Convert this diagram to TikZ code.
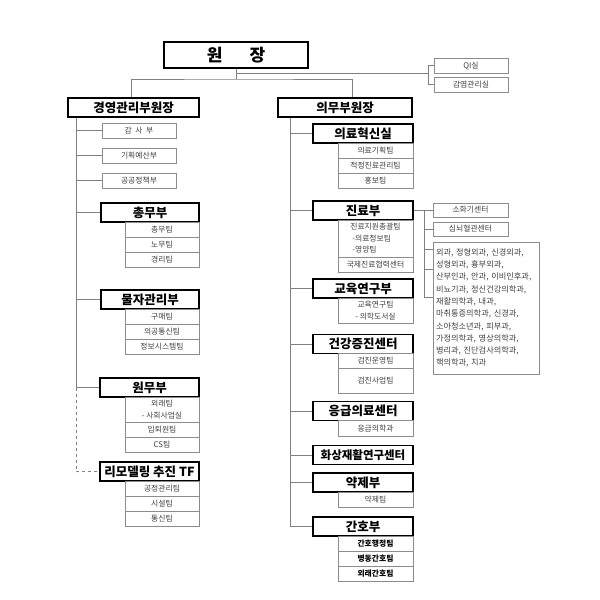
\documentclass[tikz,border=0pt]{standalone}
\usepackage{fontspec}
\newfontfamily\kr{Noto Sans CJK KR}
\begin{document}
\begin{tikzpicture}[x=1pt,y=-1pt,
  hdr/.style={draw=black, line width=1.1pt, fill=white, inner sep=0pt,
    minimum width=100pt, minimum height=19pt,
    font=\kr\bfseries\fontsize{12.5}{13}\selectfont},
  sub/.style={draw=black!45, line width=0.6pt, fill=white, inner sep=0pt, align=center,
    minimum width=74pt, minimum height=15pt, text=black!75,
    font=\kr\fontsize{7.8}{11.5}\selectfont},
  rsub/.style={sub, minimum width=75pt},
  bsub/.style={rsub, text=black, font=\kr\bfseries\fontsize{7.8}{11.5}\selectfont},
  conn/.style={draw=black!50, line width=0.6pt}]
\useasboundingbox (0,0) rectangle (600,600);

% top
\node[hdr, minimum width=144pt, minimum height=26pt,
  font=\kr\bfseries\fontsize{17}{18}\selectfont] (wj) at (236,55) {원\hspace{1.6em}장};
\node[sub] (qi) at (471,65.5) {QI실};
\node[sub] (gam) at (471,84.5) {감염관리실};
\node[hdr, minimum width=131pt] (gy) at (133.5,107.5) {경영관리부원장};
\node[hdr, minimum width=134pt] (um) at (345,107.5) {의무부원장};

\coordinate (jn) at (236,79);
\coordinate (qb) at (429,73);
\draw[conn] (wj.south) -- (jn);
\draw[conn] ([xshift=-2.5pt]gy.north) |- (jn) -| ([xshift=7pt]um.north);
\draw[conn] (wj.south |- qb) -- (qb);
\draw[conn] (qi.west) -- ++(-5,0) |- (gam.west);

% left column
\node[sub] (ga) at (139,130.5) {감\ \ 사\ \ 부};
\node[sub] (gi) at (139,155.5) {기획예산부};
\node[sub] (gg) at (139,180.5) {공공정책부};

\node[hdr, minimum width=98pt] (cm) at (150,212.5) {총무부};
\node[sub] (cm1) at (162,229.5) {총무팀};
\node[sub] (cm2) at (162,244.5) {노무팀};
\node[sub] (cm3) at (162,259.5) {경리팀};

\node[hdr, minimum width=98pt] (mj) at (150,299.5) {물자관리부};
\node[sub] (mj1) at (162,316.5) {구매팀};
\node[sub] (mj2) at (162,331.5) {의공통신팀};
\node[sub] (mj3) at (162,346.5) {정보시스템팀};

\node[hdr, minimum width=99pt] (wm) at (149.5,387.5) {원무부};
\node[sub, minimum height=25pt] (wm1) at (162,409.5) {외래팀\\- 사회사업실};
\node[sub] (wm2) at (162,429.5) {입퇴원팀};
\node[sub] (wm3) at (162,444.5) {CS팀};

\node[hdr, minimum width=99pt] (tf) at (149.5,471.5) {리모델링 추진 TF};
\node[sub] (tf1) at (162,488.5) {공정관리팀};
\node[sub] (tf2) at (162,503.5) {시설팀};
\node[sub] (tf3) at (162,518.5) {통신팀};

\coordinate (lt) at ([xshift=9pt]gy.south west);
\draw[conn] (lt) -- (lt |- wm.west);
\draw[conn, dashed] (lt |- wm.west) |- (tf.west);
\foreach \n in {ga,gi,gg,cm,mj,wm} \draw[conn] (\n.west) -- (\n.west -| lt);

% right column
\node[hdr] (hs) at (363,133.5) {의료혁신실};
\node[rsub] (hs1) at (375.5,150.5) {의료기획팀};
\node[rsub] (hs2) at (375.5,165.5) {적정진료관리팀};
\node[rsub] (hs3) at (375.5,180.5) {홍보팀};

\node[hdr] (jr) at (363,210.5) {진료부};
\node[rsub, minimum height=37pt, align=left] (jr1) at (375.5,238.5) {진료지원총괄팀\\\hspace*{2pt}-의료정보팀\\\hspace*{2pt}-영양팀};
\node[rsub] (jr2) at (375.5,264.5) {국제진료협력센터};

\node[hdr] (gy2) at (363,288.5) {교육연구부};
\node[rsub, minimum height=25pt] (gy21) at (375.5,310.5) {교육연구팀\\- 의학도서실};

\node[hdr] (gj) at (363,344) {건강증진센터};
\node[rsub] (gj1) at (375.5,361) {검진운영팀};
\node[rsub, minimum height=24.5pt] (gj2) at (375.5,380.75) {검진사업팀};

\node[hdr] (eg) at (363,411) {응급의료센터};
\node[rsub, minimum height=15.5pt] (eg1) at (375.5,428.25) {응급의학과};

\node[hdr, font=\kr\bfseries\fontsize{11.5}{12}\selectfont] (hw) at (363,455) {화상재활연구센터};

\node[hdr] (yj) at (363,482.5) {약제부};
\node[rsub] (yj1) at (375.5,499.5) {약제팀};

\node[hdr] (gh) at (363,526.5) {간호부};
\node[bsub] (gh1) at (375.5,543.5) {간호행정팀};
\node[bsub] (gh2) at (375.5,558.5) {병동간호팀};
\node[bsub] (gh3) at (375.5,573.5) {외래간호팀};

\coordinate (rt) at ([xshift=13pt]um.south west);
\draw[conn] (rt) -- (rt |- gh.west);
\foreach \n in {hs,jr,gy2,gj,eg,hw,yj,gh} \draw[conn] (\n.west) -- (\n.west -| rt);

% clinical departments
\node[rsub, minimum height=14pt] (sh) at (470.5,210) {소화기센터};
\node[rsub, minimum height=14pt] (sn) at (470.5,229) {심뇌혈관센터};
\node[draw=black!45, line width=0.6pt, inner xsep=3pt, inner ysep=0pt,
  text width=100pt, minimum height=132pt, align=left, text=black!75,
  font=\kr\fontsize{8.2}{12.3}\selectfont] (bg) at (486,308)
  {외과, 정형외과, 신경외과,\\성형외과, 흉부외과,\\산부인과, 안과, 이비인후과,\\비뇨기과, 정신건강의학과,\\재활의학과, 내과,\\마취통증의학과, 신경과,\\소아청소년과, 피부과,\\가정의학과, 영상의학과,\\병리과, 진단검사의학과,\\핵의학과, 치과};

\coordinate (rb) at (424,210);
\draw[conn] (jr.east) -- (jr.east -| rb);
\draw[conn] (rb |- sh.west) -- (sh.west);
\draw[conn] (rb |- sn.west) -- (sn.west);
\foreach \yy in {249,269,297} \draw[conn] (rb |- 0,\yy) -- (bg.west |- 0,\yy);
\draw[conn] (rb |- sh.west) -- (rb |- 0,297);
\end{tikzpicture}
\end{document}
